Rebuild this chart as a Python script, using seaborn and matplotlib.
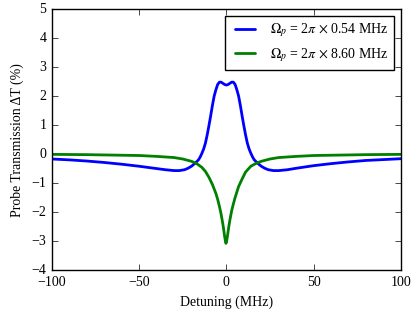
import numpy as np
import pandas as pd
import seaborn as sns
import matplotlib
matplotlib.use('Agg')
import matplotlib.pyplot as plt

# detuning (MHz) and probe transmission change (%)
det_weak = [-100, -90, -80, -70, -60, -50, -40, -35, -30, -27, -24, -22, -20, -18,
            -16, -15, -14, -13, -12, -11, -10, -9, -8, -7, -6, -5, -4, -3, -2, -1,
            0, 1, 2, 3, 4, 5, 6, 7, 8, 9, 10, 11, 12, 13, 14, 15, 16, 18, 20, 22,
            24, 27, 30, 35, 40, 50, 60, 70, 80, 90, 100]
trans_weak = [-0.17, -0.20, -0.24, -0.29, -0.35, -0.42, -0.50, -0.54, -0.57, -0.57,
              -0.54, -0.49, -0.42, -0.32, -0.20, -0.10, 0.03, 0.18, 0.38, 0.66,
              0.98, 1.32, 1.68, 2.00, 2.22, 2.40, 2.48, 2.48, 2.44, 2.40, 2.38,
              2.40, 2.44, 2.48, 2.48, 2.40, 2.22, 2.00, 1.68, 1.32, 0.98, 0.66,
              0.38, 0.18, 0.03, -0.10, -0.20, -0.32, -0.42, -0.49, -0.54, -0.57,
              -0.57, -0.54, -0.49, -0.40, -0.33, -0.27, -0.22, -0.19, -0.16]

det_strong = [-100, -80, -60, -50, -40, -30, -25, -20, -17, -14, -12, -10, -8, -6,
              -5, -4, -3, -2, -1.5, -1, -0.5, -0.25, 0, 0.5, 1, 1.5, 2, 3, 4, 5, 7,
              9, 11, 14, 17, 20, 25, 30, 40, 50, 60, 80, 100]
trans_strong = [-0.01, -0.02, -0.04, -0.05, -0.08, -0.12, -0.17, -0.25, -0.33, -0.46,
                -0.60, -0.80, -1.05, -1.36, -1.56, -1.80, -2.08, -2.42, -2.62, -2.84,
                -3.02, -3.08, -3.04, -2.88, -2.66, -2.46, -2.28, -1.96, -1.72, -1.50,
                -1.12, -0.86, -0.62, -0.42, -0.32, -0.25, -0.17, -0.12, -0.08, -0.05,
                -0.04, -0.02, -0.01]

labels = [r'$\Omega_p$ = 2$\pi$ $\times$ 0.54 MHz', r'$\Omega_p$ = 2$\pi$ $\times$ 8.60 MHz']

plt.style.use('classic')
sns.set_style('ticks', {'xtick.direction': 'in', 'ytick.direction': 'in',
                        'text.color': 'black', 'axes.labelcolor': 'black',
                        'xtick.color': 'black', 'ytick.color': 'black',
                        'axes.edgecolor': 'black'})
plt.rcParams['font.family'] = ['Liberation Serif', 'DejaVu Serif']
plt.rcParams['mathtext.fontset'] = 'stix'
fs = 10

fig = plt.figure(figsize=(4.15, 3.14), dpi=100)
ax = fig.add_axes([0.125, 0.14, 0.841, 0.831])

sns.lineplot(x=det_weak, y=trans_weak, color='b', lw=2, label=labels[0], ax=ax)
sns.lineplot(x=det_strong, y=trans_strong, color='g', lw=2, label=labels[1], ax=ax)

ax.set_xlim(-100, 100)
ax.set_ylim(-4, 5)
ax.set_xticks([-100, -50, 0, 50, 100])
ax.set_yticks(range(-4, 6))
ax.tick_params(direction='in', top=True, right=True, length=4, labelsize=fs,
               colors='black')
for s in ax.spines.values():
    s.set_visible(True)
    s.set_linewidth(1)
    s.set_color('black')
ax.set_xlabel('Detuning (MHz)', fontsize=fs, color='black')
ax.set_ylabel('Probe Transmission ΔT (%)', fontsize=fs, color='black')
leg = ax.legend(loc='upper right', fontsize=fs, frameon=True, fancybox=False)
leg.get_frame().set_edgecolor('k')
for t in leg.get_texts():
    t.set_color('black')

fig.savefig('out.png', dpi=100)
